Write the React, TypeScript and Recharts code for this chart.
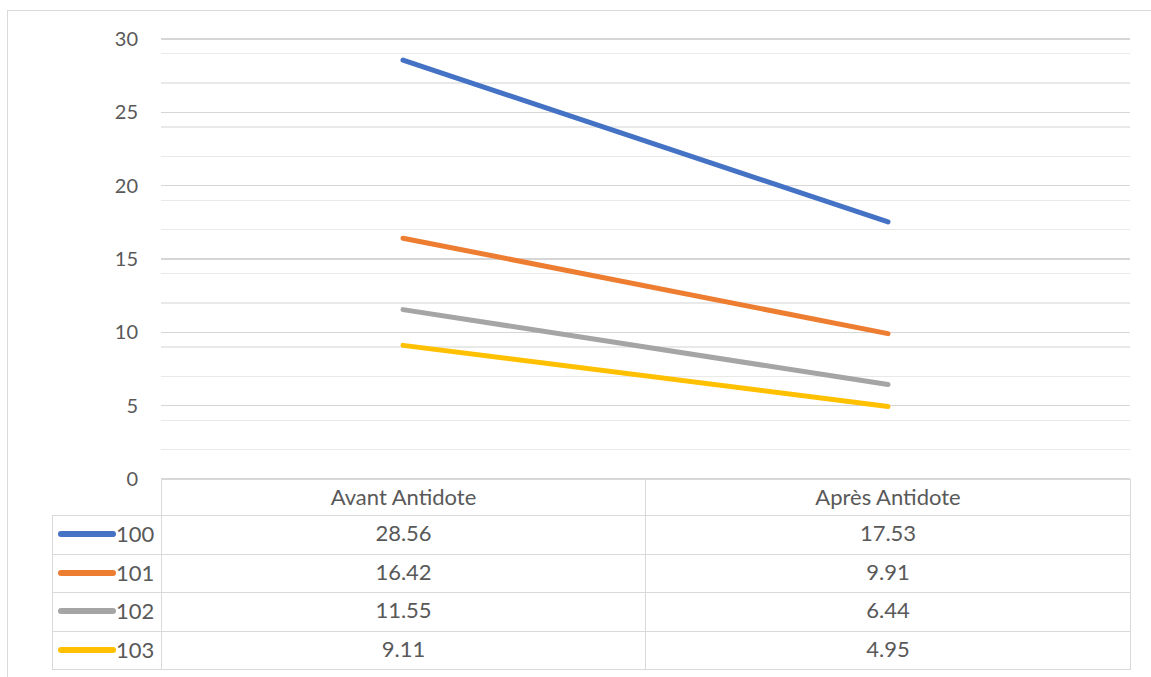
import { CartesianGrid, Line, LineChart, XAxis, YAxis } from "recharts";

const categories = ["Avant Antidote", "Après Antidote"];
const seriesNames = ["100", "101", "102", "103"];
const values100 = [28.56, 17.53];
const values101 = [16.42, 9.91];
const values102 = [11.55, 6.44];
const values103 = [9.11, 4.95];
const majorTicks = [0, 5, 10, 15, 20, 25, 30];
const minorTicks = [1, 2, 3, 4, 6, 7, 8, 9, 11, 12, 13, 14, 16, 17, 18, 19, 21, 22, 23, 24, 26, 27, 28, 29];

const seriesValues = [values100, values101, values102, values103];
const colors = ["#4472C4", "#ED7D31", "#A5A5A5", "#FFC000"];

const data = categories.map((name, i) => {
  const row: Record<string, string | number> = { name };
  seriesNames.forEach((s, j) => {
    row[s] = seriesValues[j][i];
  });
  return row;
});

const FONT = "Lato, 'Open Sans', sans-serif";
const TEXT = "#595959";
const BORDER = "1.5px solid #d9d9d9";

const cell: React.CSSProperties = {
  border: BORDER,
  textAlign: "center",
  padding: 0,
  fontSize: 22,
  color: TEXT,
};

export default function App() {
  return (
    <div
      style={{
        position: "absolute",
        left: 0,
        top: 0,
        width: 1151,
        height: 677,
        overflow: "hidden",
        background: "#ffffff",
        fontFamily: FONT,
      }}
    >
      <div
        style={{
          position: "absolute",
          left: 7,
          top: 10,
          width: 1200,
          height: 720,
          border: BORDER,
        }}
      />
      <div style={{ position: "absolute", left: 0, top: 0 }}>
        <LineChart
          width={1151}
          height={677}
          data={data}
          margin={{ top: 39, right: 21, bottom: 198, left: 101 }}
        >
          <CartesianGrid
            vertical={false}
            horizontalValues={minorTicks}
            stroke="#e9e9e9"
            strokeWidth={1.5}
            shapeRendering="crispEdges"
          />
          <CartesianGrid
            vertical={false}
            horizontalValues={majorTicks}
            stroke="#d6d6d6"
            strokeWidth={1.5}
            shapeRendering="crispEdges"
          />
          <XAxis
            dataKey="name"
            hide
            padding={{ left: 242, right: 242 }}
          />
          <YAxis
            width={60}
            domain={[0, 30]}
            ticks={majorTicks}
            axisLine={false}
            tickLine={false}
            tickSize={0}
            tickMargin={23}
            tick={{ fill: TEXT, fontSize: 20, fontFamily: FONT }}
          />
          {seriesNames.map((s, j) => (
            <Line
              key={s}
              dataKey={s}
              stroke={colors[j]}
              strokeWidth={5}
              strokeLinecap="round"
              dot={false}
              activeDot={false}
              isAnimationActive={false}
            />
          ))}
        </LineChart>
      </div>
      <table
        style={{
          position: "absolute",
          left: 52,
          top: 479,
          borderCollapse: "collapse",
          tableLayout: "fixed",
          fontFamily: FONT,
          lineHeight: 1,
        }}
      >
        <colgroup>
          <col style={{ width: 109 }} />
          <col style={{ width: 484 }} />
          <col style={{ width: 485 }} />
        </colgroup>
        <tbody>
          <tr style={{ height: 36 }}>
            <td style={{ padding: 0 }} />
            {categories.map((c) => (
              <td key={c} style={{ ...cell, paddingBottom: 2 }}>
                {c}
              </td>
            ))}
          </tr>
          {seriesNames.map((s, j) => (
            <tr key={s} style={{ height: 38.5 }}>
              <td
                style={{
                  ...cell,
                  textAlign: "left",
                  whiteSpace: "nowrap",
                  paddingBottom: 3,
                }}
              >
                <span
                  style={{
                    display: "inline-block",
                    width: 58,
                    height: 6,
                    borderRadius: 3,
                    background: colors[j],
                    verticalAlign: "middle",
                    marginLeft: 5,
                    marginRight: 0,
                  }}
                />
                <span style={{ verticalAlign: "middle" }}>{s}</span>
              </td>
              {seriesValues[j].map((v, i) => (
                <td key={i} style={{ ...cell, paddingBottom: 3 }}>
                  {v.toFixed(2)}
                </td>
              ))}
            </tr>
          ))}
        </tbody>
      </table>
    </div>
  );
}
